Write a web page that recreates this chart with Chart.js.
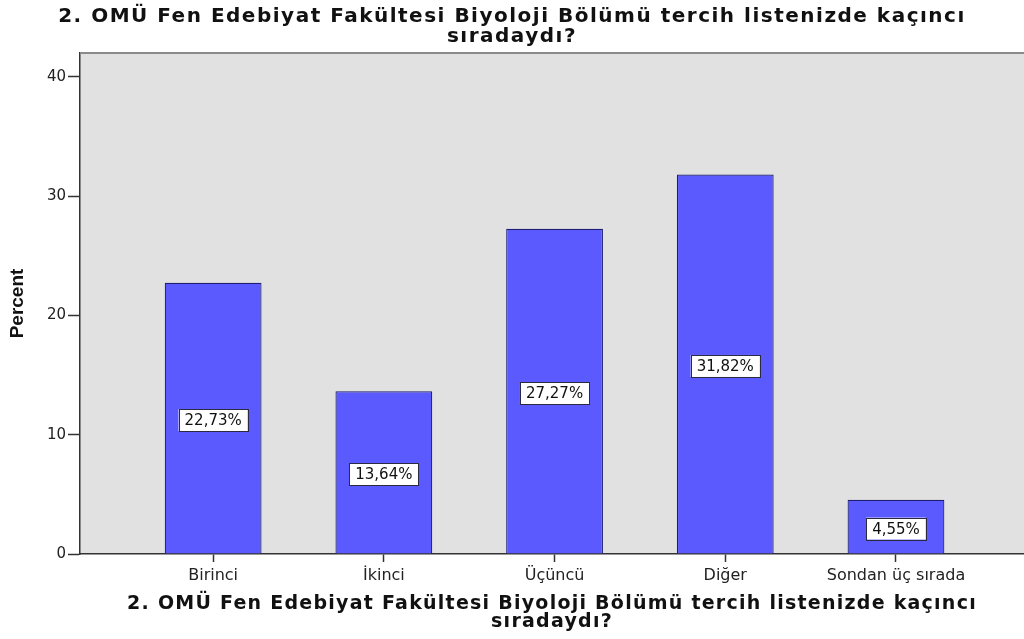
<!DOCTYPE html>
<html lang="tr">
<head>
<meta charset="UTF-8">
<title>Biyoloji Bölümü tercih sırası</title>
<script src="https://cdn.jsdelivr.net/npm/chart.js"></script>
<style>
  html, body { margin: 0; padding: 0; background: #fff; overflow: hidden; }
  #wrap { width: 1024px; height: 639px; }
</style>
</head>
<body>
<div id="wrap"><canvas id="chart" width="1024" height="639"></canvas></div>
<script>
// veriler
const categories = ['Birinci', 'İkinci', 'Üçüncü', 'Diğer', 'Sondan üç sırada'];
const percents = [22.73, 13.64, 27.27, 31.82, 4.55];
const yTicks = [0, 10, 20, 30, 40];
const titleLines = ['2. OMÜ Fen Edebiyat Fakültesi Biyoloji Bölümü tercih listenizde kaçıncı', 'sıradaydı?'];
const yTitle = 'Percent';

// gri arka plan + üst çizgi
const plotFrame = {
    id: 'plotFrame',
    beforeDraw(chart) {
        const a = chart.chartArea;
        const ctx = chart.ctx;
        ctx.save();
        ctx.fillStyle = '#e1e1e1';
        ctx.fillRect(a.left, a.top, a.right - a.left, a.bottom - a.top);
        ctx.restore();
    },
    afterDraw(chart) {
        const a = chart.chartArea;
        const ctx = chart.ctx;
        ctx.save();
        ctx.strokeStyle = '#8a8a8a';
        ctx.lineWidth = 2;
        ctx.beginPath();
        ctx.moveTo(a.left, a.top);
        ctx.lineTo(a.right, a.top);
        ctx.stroke();
        ctx.restore();
    }
};

// başlıklarda harf aralığı (SPSS çıktısı geniş görünüyor)
const spacedTitles = {
    id: 'spacedTitles',
    beforeDraw(chart) {
        const wrap = (obj, fn, spacing) => {
            if (!obj || obj['_sp_' + fn]) return;
            const orig = obj[fn].bind(obj);
            obj[fn] = function (...args) {
                chart.ctx.save();
                chart.ctx.letterSpacing = spacing;
                orig(...args);
                chart.ctx.restore();
            };
            obj['_sp_' + fn] = true;
        };
        wrap(chart.titleBlock, 'draw', '1.5px');
        wrap(chart.scales.x, 'drawTitle', '1.25px');
    }
};

// çubuk ortasında yüzde kutuları
const barLabels = {
    id: 'barLabels',
    afterDatasetsDraw(chart) {
        const ctx = chart.ctx;
        const meta = chart.getDatasetMeta(0);
        ctx.save();
        ctx.font = '15px "DejaVu Sans"';
        ctx.textAlign = 'center';
        ctx.textBaseline = 'middle';
        meta.data.forEach((bar, i) => {
            const txt = percents[i].toFixed(2).replace('.', ',') + '%';
            const cy = (bar.y + bar.base) / 2 + 2;
            const w = ctx.measureText(txt).width + 12;
            const h = 22;
            ctx.fillStyle = '#ffffff';
            ctx.fillRect(bar.x - w / 2, cy - h / 2, w, h);
            ctx.strokeStyle = '#2a2a40';
            ctx.lineWidth = 1;
            ctx.strokeRect(Math.round(bar.x - w / 2) + 0.5, Math.round(cy - h / 2) + 0.5, Math.round(w), h);
            ctx.fillStyle = '#111';
            ctx.fillText(txt, bar.x, cy + 1);
        });
        ctx.restore();
    }
};

const ctx = document.getElementById('chart').getContext('2d');
new Chart(ctx, {
    type: 'bar',
    data: {
        datasets: [{
            data: percents.map((v, i) => ({ x: i + 1, y: v })),
            backgroundColor: '#5a5aff',
            borderColor: '#1e1e70',
            borderWidth: 1.2,
            categoryPercentage: 1,
            barPercentage: 0.567
        }]
    },
    options: {
        responsive: false,
        animation: false,
        layout: { padding: 0 },
        plugins: {
            legend: { display: false },
            tooltip: { enabled: false },
            title: {
                display: true,
                text: titleLines,
                color: '#111',
                font: { family: '"DejaVu Sans", sans-serif', size: 20, weight: 'bold', lineHeight: 1.0 },
                padding: { top: 6.5, bottom: 6.5 }
            }
        },
        scales: {
            x: {
                type: 'linear',
                offset: false,
                min: 0.22,
                max: 5.75,
                afterBuildTicks: s => { s.ticks = categories.map((c, i) => ({ value: i + 1 })); },
                afterFit: s => { s.height = 85; },
                ticks: {
                    autoSkip: false,
                    maxRotation: 0,
                    padding: 4,
                    color: '#222',
                    font: { family: '"DejaVu Sans", sans-serif', size: 16 },
                    callback: v => categories[v - 1]
                },
                grid: { offset: false, drawOnChartArea: false, drawTicks: true, tickLength: 8, tickColor: '#333', tickWidth: 1.5 },
                border: { display: true, color: '#333', width: 1.5 },
                title: {
                    display: true,
                    text: titleLines,
                    color: '#111',
                    font: { family: '"DejaVu Sans", sans-serif', size: 19, weight: 'bold', lineHeight: 0.92 },
                    padding: { top: 0, bottom: 8.5 }
                }
            },
            y: {
                min: 0,
                max: 42,
                afterBuildTicks: s => { s.ticks = yTicks.map(v => ({ value: v })); },
                afterFit: s => { s.width = 80; },
                ticks: {
                    padding: 2,
                    color: '#222',
                    font: { family: '"DejaVu Sans", sans-serif', size: 15 }
                },
                grid: { drawOnChartArea: false, drawTicks: true, tickLength: 12, tickColor: '#333', tickWidth: 1.5 },
                border: { display: true, color: '#333', width: 1.5 },
                title: {
                    display: true,
                    text: yTitle,
                    color: '#111',
                    font: { family: '"Liberation Sans", Arial, sans-serif', size: 19, weight: 'bold' },
                    padding: { top: 6, bottom: 0 }
                }
            }
        }
    },
    plugins: [plotFrame, spacedTitles, barLabels]
});
</script>
</body>
</html>
